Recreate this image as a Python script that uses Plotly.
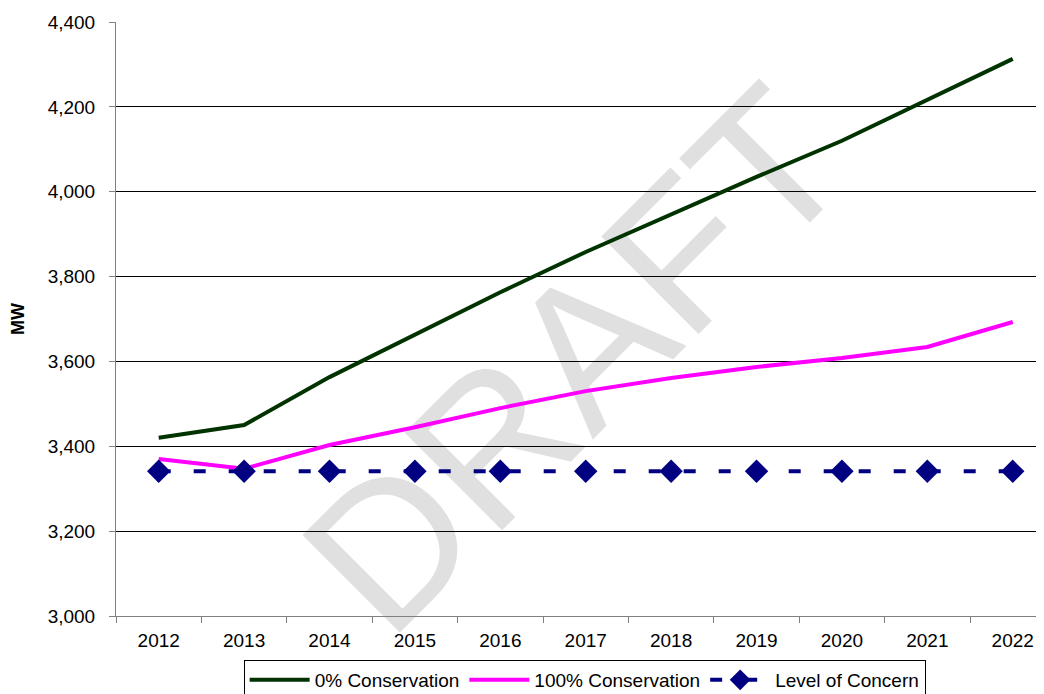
import plotly.graph_objects as go

years = ["2012", "2013", "2014", "2015", "2016", "2017", "2018", "2019", "2020", "2021", "2022"]
cons_0 = [3420, 3450, 3563, 3663, 3763, 3858, 3947, 4035, 4120, 4216, 4313]
cons_100 = [3370, 3347, 3403, 3445, 3490, 3530, 3561, 3587, 3608, 3634, 3693]
level_of_concern = [3341] * 11
y_ticks = [3000, 3200, 3400, 3600, 3800, 4000, 4200, 4400]

xpos = list(range(len(years)))
FONT = "Liberation Sans, Arial, sans-serif"

# the page body adds an 8px offset, so the figure is 8px smaller than the window
W, H = 1036, 686

fig = go.Figure()
fig.add_trace(go.Scatter(
    x=xpos, y=cons_0, mode="lines", name="0% Conservation",
    line=dict(color="#003300", width=4),
))
fig.add_trace(go.Scatter(
    x=xpos, y=cons_100, mode="lines", name="100% Conservation",
    line=dict(color="#ff00ff", width=4),
))
fig.add_trace(go.Scatter(
    x=xpos, y=level_of_concern, mode="lines+markers", name="Level of Concern",
    line=dict(color="#000080", width=4, dash="12px,23px"),
    marker=dict(symbol="diamond", size=18, color="#000080"),
))

fig.add_shape(
    type="rect", xref="paper", yref="paper", x0=0.47, x1=0.49, y0=0.44, y1=0.47,
    line=dict(width=0), fillcolor="rgba(0,0,0,0)", layer="below",
    label=dict(text="DRAFT", textangle=-45, textposition="middle center",
               font=dict(family=FONT, size=200, color="#e0e0e0")),
)

fig.update_layout(
    width=W, height=H,
    margin=dict(l=108, r=0, t=14, b=78),
    paper_bgcolor="white", plot_bgcolor="rgba(0,0,0,0)",
    font=dict(family=FONT, size=19, color="black"),
    showlegend=True,
    legend=dict(
        orientation="h", x=0.505, xanchor="center",
        yref="container", y=1 - 652 / H, yanchor="top",
        bordercolor="black", borderwidth=1, bgcolor="white",
        font=dict(family=FONT, size=19, color="black"),
        itemwidth=60, tracegroupgap=0,
    ),
)

fig.update_xaxes(
    range=[-0.5, 10.366], tickmode="array", tickvals=xpos, ticktext=years,
    ticks="", showgrid=False, zeroline=False, automargin=False,
    showline=True, linecolor="#808080", linewidth=1, ticklabelstandoff=7,
    tickfont=dict(family=FONT, size=19, color="black"),
    minor=dict(tickmode="linear", tick0=-0.5, dtick=1, ticks="outside",
               ticklen=6, tickcolor="#808080", tickwidth=1, showgrid=False),
)
fig.update_yaxes(
    range=[3000, 4400], tickmode="array", tickvals=y_ticks,
    tickformat=",d", ticks="outside", ticklen=6, tickcolor="#808080",
    showgrid=True, gridcolor="black", gridwidth=1, zeroline=False,
    showline=True, linecolor="#808080", linewidth=1, automargin=False,
    ticklabelstandoff=10,
    tickfont=dict(family=FONT, size=19, color="black"),
    title=dict(text="<b>MW</b>", standoff=20,
               font=dict(family=FONT, size=18, color="black")),
)

fig.write_html("out.html")
